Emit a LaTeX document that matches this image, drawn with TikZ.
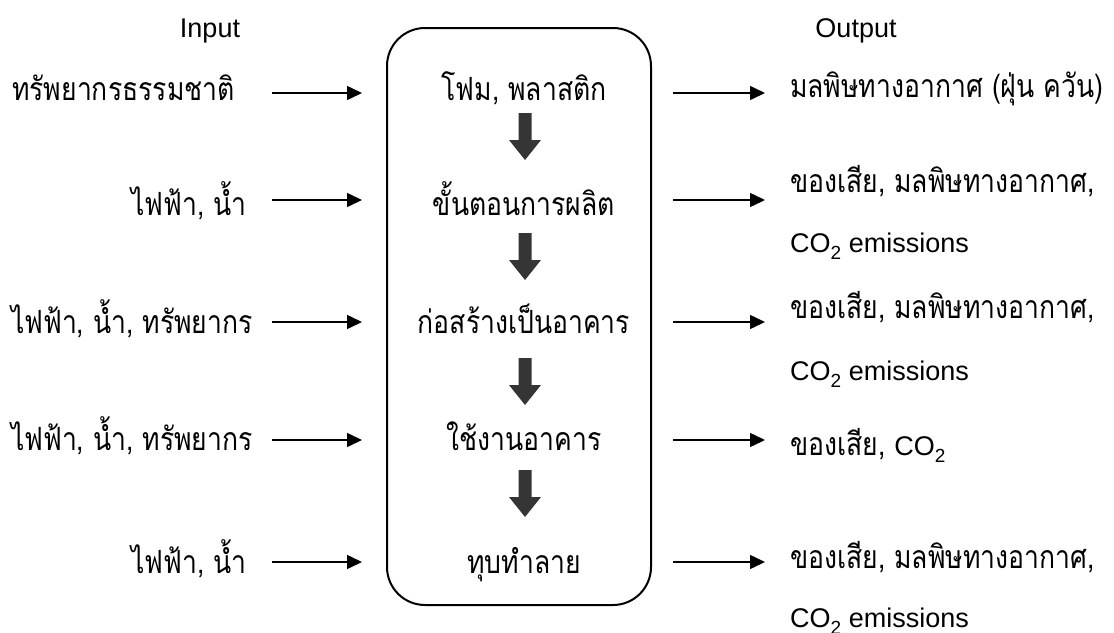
\documentclass[tikz,border=0pt]{standalone}
\usepackage{fontspec}
\setmainfont{Liberation Sans}
\newfontfamily\thaifont[Script=Thai,FakeStretch=0.83]{Loma}
\usetikzlibrary{arrows.meta}
\definecolor{arrowgray}{HTML}{353535}
\newcommand\cotwo{CO\raisebox{-7pt}{\fontsize{19}{19}\selectfont 2}}
\begin{document}
\begin{tikzpicture}[x=1pt,y=-1pt,
  lat/.style={font=\fontsize{27}{32}\selectfont, inner sep=0pt, anchor=base},
  th/.style={font=\thaifont\fontsize{32}{36}\selectfont, inner sep=0pt, anchor=base},
  flow/.style={line width=1.5pt, -{Triangle[length=15pt,width=14pt]}},
  stagebox/.style={draw, line width=2pt, rounded corners=38pt},
  blockarrow/.pic={\fill[arrowgray] (-6.5,0) -- (6.5,0) -- (6.5,27) -- (16,27) -- (0,47) -- (-16,27) -- (-6.5,27) -- cycle;}
]
\useasboundingbox (0,0) rectangle (1114,632);
% headings
\node[lat] (hin) at (210,37) {Input};
\node[lat] (hout) at (856,37) {Output};
% process box
\draw[stagebox] (387,28) rectangle (651,605);
% stages
\node[th] (s1) at (524,100) {โฟม, พลาสติก};
\node[th] (s2) at (524,215) {ขั้นตอนการผลิต};
\node[th] (s3) at (524,333) {ก่อสร้างเป็นอาคาร};
\node[th] (s4) at (524,450) {ใช้งานอาคาร};
\node[th] (s5) at (524,573) {ทุบทำลาย};
\pic at (525,113) {blockarrow};
\pic at (525,233) {blockarrow};
\pic at (525,358) {blockarrow};
\pic at (525,470) {blockarrow};
% inputs
\node[th, anchor=base west] (in1) at (12,100) {ทรัพยากรธรรมชาติ};
\node[th, anchor=base east] (in2) at (247,215) {ไฟฟ้า, น้ำ};
\node[th, anchor=base east] (in3) at (253,333) {ไฟฟ้า, น้ำ, ทรัพยากร};
\node[th, anchor=base east] (in4) at (253,450) {ไฟฟ้า, น้ำ, ทรัพยากร};
\node[th, anchor=base east] (in5) at (247,573) {ไฟฟ้า, น้ำ};
% outputs
\node[th, anchor=base west] (o1) at (790,97) {มลพิษทางอากาศ (ฝุ่น ควัน)};
\node[th, anchor=base west] (o2) at (790,192) {ของเสีย, มลพิษทางอากาศ,};
\node[lat, anchor=base west] (o2b) at (790,252) {\cotwo\ emissions};
\node[th, anchor=base west] (o3) at (790,318) {ของเสีย, มลพิษทางอากาศ,};
\node[lat, anchor=base west] (o3b) at (790,380) {\cotwo\ emissions};
\node[th, anchor=base west] (o4) at (790,455) {ของเสีย, {\fontspec{Liberation Sans}\fontsize{27}{32}\selectfont\cotwo}};
\node[th, anchor=base west] (o5) at (790,568) {ของเสีย, มลพิษทางอากาศ,};
\node[lat, anchor=base west] (o5b) at (790,627) {\cotwo\ emissions};
% arrow end points
\foreach \i/\y in {1/93,2/200,3/322,4/440,5/562}{
  \coordinate (a\i) at (272,\y);
  \coordinate (b\i) at (362,\y);
  \coordinate (c\i) at (673,\y);
  \coordinate (d\i) at (765,\y);
}
\foreach \i in {1,...,5}{
  \draw[flow] (a\i) -- (b\i);
  \draw[flow] (c\i) -- (d\i);
}
\end{tikzpicture}
\end{document}
